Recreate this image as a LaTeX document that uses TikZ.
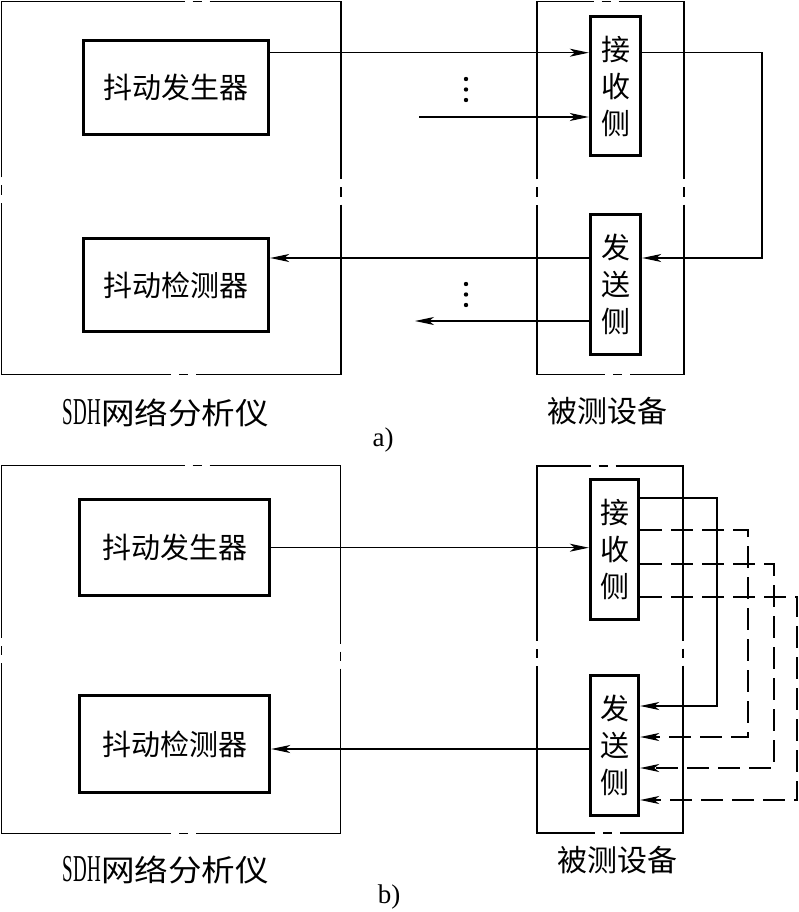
\documentclass[tikz,border=0pt]{standalone}
\usepackage{fontspec}
\setmainfont{Liberation Serif}
\newfontfamily\cjk{Noto Sans CJK SC}
\usetikzlibrary{arrows.meta}
% broken outer frame: x1,y1,x2,y2, break centre top, bottom, left, right
\newcommand\brkbox[8]{%
  \draw[outerln] (#5+12.5,#2) -- (#3,#2) -- (#3,#8-12.5)
    (#3,#8-4.5) -- (#3,#8+4.5)
    (#3,#8+12.5) -- (#3,#4) -- (#6+12.5,#4)
    (#6+4.5,#4) -- (#6-4.5,#4)
    (#6-12.5,#4) -- (#1,#4) -- (#1,#7+12.5)
    (#1,#7+4.5) -- (#1,#7-4.5)
    (#1,#7-12.5) -- (#1,#2) -- (#5-12.5,#2)
    (#5-4.5,#2) -- (#5+4.5,#2);
}
\begin{document}
\begin{tikzpicture}[x=1pt,y=-1pt,
  conn/.style={line width=1.1pt},
  arr/.style={conn,-{Stealth[length=19pt,width=8pt,inset=5pt]}},
  dsh/.style={line width=1.5pt,dash pattern=on 22pt off 9pt},
  outerln/.style={line width=1.3pt},
  blk/.style={draw,line width=3.4pt,inner sep=0pt,font=\cjk\fontsize{29}{37}\selectfont,align=center},
  lbl/.style={inner sep=0pt,font=\cjk\fontsize{30}{36}\selectfont},
  sub/.style={inner sep=0pt,font=\rmfamily\fontsize{27}{30}\selectfont},
  ]
\useasboundingbox (0,0) rectangle (799,912);

% ---------- a) ----------
\brkbox{1.5}{1.5}{341}{374.5}{197}{183}{190}{192}
\brkbox{537}{1.5}{684}{374.5}{606}{617}{192}{192}

\node[blk,minimum width=185pt,minimum height=94pt] (gen1) at (176,87.7) {抖动发生器};
\node[blk,minimum width=185pt,minimum height=93pt] (det1) at (176,285) {抖动检测器};
\node[blk,minimum width=50pt,minimum height=139pt] (rx1) at (615.5,86) {接\\收\\侧};
\node[blk,minimum width=50pt,minimum height=140pt] (tx1) at (615.5,284.5) {发\\送\\侧};

\coordinate (ya1) at (0,52.7);
\coordinate (in1) at (419,117);
\coordinate (ca1) at (762,52.7);
\coordinate (cb1) at (762,258);
\coordinate (out1) at (415,321);

\draw[arr] (gen1.east |- ya1) -- (rx1.west |- ya1);
\draw[arr] (in1) -- (rx1.west |- in1);
\draw[arr] (rx1.east |- ca1) -- (ca1) -- (cb1) -- (tx1.east |- cb1);
\draw[arr] (tx1.west |- cb1) -- (det1.east |- cb1);
\draw[arr] (tx1.west |- out1) -- (out1);

\fill (466,79) circle (2.2pt) (466,89.5) circle (2.2pt) (466,100) circle (2.2pt);
\fill (466,284) circle (2.2pt) (466,294.5) circle (2.2pt) (466,305) circle (2.2pt);

\node[lbl] (lab1) at (166,413) {\scalebox{0.5}[1]{\rmfamily\fontsize{38}{40}\selectfont SDH}\scalebox{1.12}[1]{网络分析仪}};
\node[lbl] (lab2) at (607,411) {被测设备};
\node[sub] (suba) at (383,440) {a)};

% ---------- b) ----------
\brkbox{1.5}{465.7}{340.7}{833.3}{197}{183}{650}{656}
\brkbox{537}{466}{683}{833}{603}{607}{653}{653}

\node[blk,minimum width=190pt,minimum height=96pt] (gen2) at (174.5,547.5) {抖动发生器};
\node[blk,minimum width=190pt,minimum height=97pt] (det2) at (174.5,744) {抖动检测器};
\node[blk,minimum width=48pt,minimum height=140pt] (rx2) at (614.5,549.5) {接\\收\\侧};
\node[blk,minimum width=48pt,minimum height=140pt] (tx2) at (614.5,745.5) {发\\送\\侧};

\coordinate (yb1) at (0,547.7);
\coordinate (yb2) at (0,749);
\coordinate (l1a) at (717,498);
\coordinate (l1b) at (717,706);
\coordinate (l2a) at (748,530);
\coordinate (l2b) at (748,737);
\coordinate (l3a) at (774,564);
\coordinate (l3b) at (774,768);
\coordinate (l4a) at (797,597);
\coordinate (l4b) at (797,800);

\draw[arr] (gen2.east |- yb1) -- (rx2.west |- yb1);
\draw[arr] (tx2.west |- yb2) -- (det2.east |- yb2);
\draw[arr] (rx2.east |- l1a) -- (l1a) -- (l1b) -- (tx2.east |- l1b);
\draw[arr,dsh] (rx2.east |- l2a) -- (l2a) -- (l2b) -- (tx2.east |- l2b);
\draw[arr,dsh] (rx2.east |- l3a) -- (l3a) -- (l3b) -- (tx2.east |- l3b);
\draw[arr,dsh] (rx2.east |- l4a) -- (l4a) -- (l4b) -- (tx2.east |- l4b);

\node[lbl] (lab3) at (166,870) {\scalebox{0.5}[1]{\rmfamily\fontsize{38}{40}\selectfont SDH}\scalebox{1.12}[1]{网络分析仪}};
\node[lbl] (lab4) at (617,860) {被测设备};
\node[sub] (subb) at (389,897) {b)};
\end{tikzpicture}
\end{document}
